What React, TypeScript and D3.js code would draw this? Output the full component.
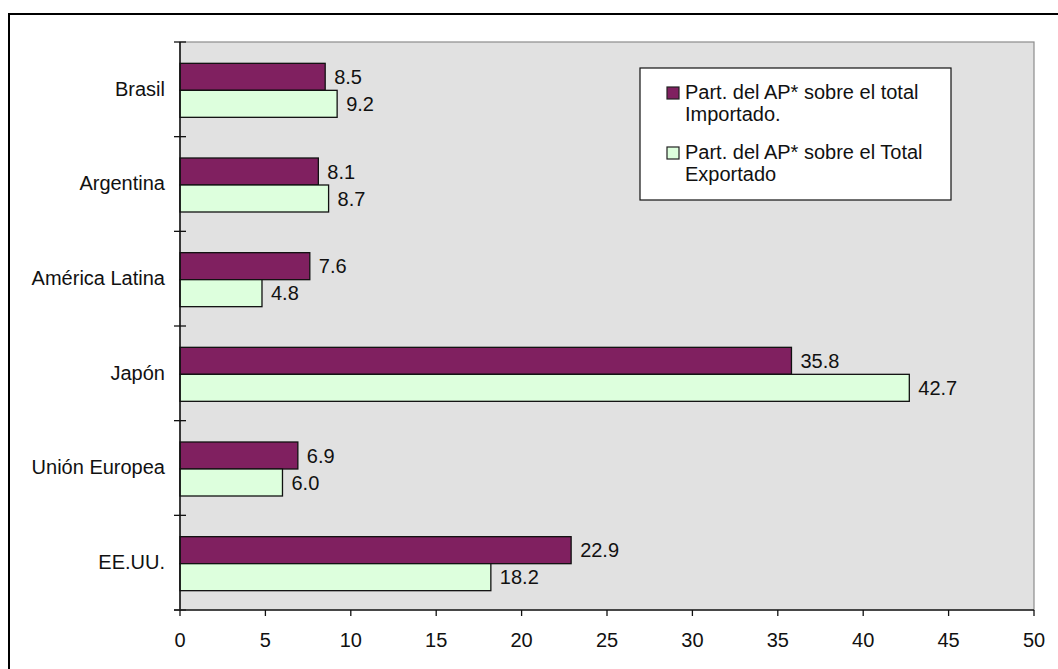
import React, { useRef, useEffect } from "react";
import * as d3 from "d3";

const categories = ["Brasil", "Argentina", "América Latina", "Japón", "Unión Europea", "EE.UU."];
const importado = [8.5, 8.1, 7.6, 35.8, 6.9, 22.9];
const exportado = [9.2, 8.7, 4.8, 42.7, 6.0, 18.2];
const xTicks = [0, 5, 10, 15, 20, 25, 30, 35, 40, 45, 50];
const seriesKeys = ["importado", "exportado"];
const legendLines = [
    ["Part. del AP* sobre el total", "Importado."],
    ["Part. del AP* sobre el Total", "Exportado"],
];

const colors = ["#802060", "#ddffdd"];
const FONT = "Arial, 'Liberation Sans', sans-serif";
const FS = "20px";

const App = () => {
    const svgRef = useRef(null);

    useEffect(() => {
        const svg = d3.select(svgRef.current);
        svg.selectAll("*").remove();

        const left = 180, right = 1034, top = 42, bottom = 610;

        // outer frame (only left / top edges visible in the picture)
        svg.append("rect")
            .attr("x", 9).attr("y", 14)
            .attr("width", 1200).attr("height", 800)
            .attr("fill", "white").attr("stroke", "black").attr("stroke-width", 2);

        const x = d3.scaleLinear().domain([0, 50]).range([left, right]);
        const y = d3.scaleBand().domain(categories).range([top, bottom]);
        const groupH = 54;
        const inner = d3.scaleBand().domain(seriesKeys).range([0, groupH]);

        // plot area
        svg.append("rect")
            .attr("x", left).attr("y", top)
            .attr("width", right - left).attr("height", bottom - top)
            .attr("fill", "#e1e1e1").attr("stroke", "#8c8c8c").attr("stroke-width", 1.2);

        const rows = categories.map((c, i) => ({ c, importado: importado[i], exportado: exportado[i] }));
        const fmt = d3.format(".1f");

        seriesKeys.forEach((key, si) => {
            const g = svg.append("g");
            const barY = (d) => y(d.c) + (y.bandwidth() - groupH) / 2 + 1 + inner(key);
            g.selectAll("rect")
                .data(rows)
                .enter()
                .append("rect")
                .attr("x", x(0))
                .attr("y", barY)
                .attr("width", (d) => x(d[key]) - x(0))
                .attr("height", inner.bandwidth())
                .attr("fill", colors[si])
                .attr("stroke", "#111")
                .attr("stroke-width", 1.3);

            g.selectAll("text")
                .data(rows)
                .enter()
                .append("text")
                .attr("x", (d) => x(d[key]) + 9)
                .attr("y", (d) => barY(d) + inner.bandwidth() / 2)
                .attr("dy", "0.36em")
                .style("font-family", FONT)
                .style("font-size", FS)
                .attr("fill", "#111")
                .text((d) => fmt(d[key]));
        });

        // y axis
        svg.append("line")
            .attr("x1", left).attr("x2", left).attr("y1", top).attr("y2", bottom)
            .attr("stroke", "#111").attr("stroke-width", 1.5);
        const yTickPos = categories.map((c) => y(c)).concat([bottom]);
        svg.selectAll(".ytick")
            .data(yTickPos)
            .enter()
            .append("line")
            .attr("x1", left - 6).attr("x2", left + 6)
            .attr("y1", (d) => d).attr("y2", (d) => d)
            .attr("stroke", "#111").attr("stroke-width", 1.3);
        svg.selectAll(".ylab")
            .data(categories)
            .enter()
            .append("text")
            .attr("x", left - 15)
            .attr("y", (d) => y(d) + y.bandwidth() / 2 - 1)
            .attr("dy", "0.36em")
            .attr("text-anchor", "end")
            .style("font-family", FONT)
            .style("font-size", FS)
            .attr("fill", "#111")
            .text((d) => d);

        // x axis
        svg.append("line")
            .attr("x1", left - 6).attr("x2", right).attr("y1", bottom).attr("y2", bottom)
            .attr("stroke", "#222").attr("stroke-width", 1.5);
        svg.selectAll(".xtick")
            .data(xTicks)
            .enter()
            .append("line")
            .attr("x1", (d) => x(d)).attr("x2", (d) => x(d))
            .attr("y1", bottom).attr("y2", bottom + 6)
            .attr("stroke", "#111").attr("stroke-width", 1.3);
        svg.selectAll(".xlab")
            .data(xTicks)
            .enter()
            .append("text")
            .attr("x", (d) => x(d))
            .attr("y", 647)
            .attr("text-anchor", "middle")
            .style("font-family", FONT)
            .style("font-size", FS)
            .attr("fill", "#111")
            .text((d) => d);

        // legend
        const lg = svg.append("g");
        lg.append("rect")
            .attr("x", 640).attr("y", 68).attr("width", 311).attr("height", 132)
            .attr("fill", "white").attr("stroke", "#111").attr("stroke-width", 1.2);
        legendLines.forEach((lines, i) => {
            const base = 99 + i * 60;
            lg.append("rect")
                .attr("x", 667).attr("y", base - 12)
                .attr("width", 12).attr("height", 12)
                .attr("fill", colors[i]).attr("stroke", "#222").attr("stroke-width", 1.2);
            lines.forEach((t, j) => {
                lg.append("text")
                    .attr("x", 685)
                    .attr("y", base + j * 22)
                    .style("font-family", FONT)
                    .style("font-size", FS)
                    .attr("fill", "#111")
                    .text(t);
            });
        });
    }, []);

    return (
        <div style={{ position: "absolute", left: 0, top: 0 }}>
            <svg ref={svgRef} width={1058} height={669} style={{ display: "block" }}></svg>
        </div>
    );
};

export default App;
